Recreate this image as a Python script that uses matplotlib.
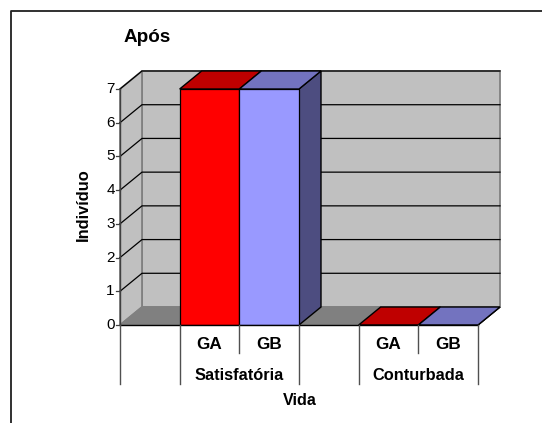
import matplotlib
matplotlib.use("Agg")
import matplotlib.pyplot as plt
from matplotlib.patches import Polygon

plt.rcParams["font.family"] = ["Liberation Sans", "DejaVu Sans"]

# dados
grupos = ["GA", "GB", "GA", "GB"]
categorias = ["Satisfatória", "Conturbada"]
valores = [7, 7, 0, 0]
posicoes = [1, 2, 4, 5]
niveis = [0, 1, 2, 3, 4, 5, 6, 7]

cores_frente = ["#ff0000", "#9999ff", "#ff0000", "#9999ff"]
cores_topo = ["#bf0000", "#7373bf", "#bf0000", "#7373bf"]
cores_lado = ["#7f0000", "#4d4d80", "#7f0000", "#4d4d80"]

W, H = 542, 423
fig = plt.figure(figsize=(W / 100, H / 100), dpi=100)

# eixo: x 0-6 de 120 a 478 px, y 0-7 de 325 a 89 px
ax = fig.add_axes([120 / W, 1 - 325 / H, 358 / W, 236 / H])
ax.set_xlim(0, 6)
ax.set_ylim(0, 7)
ax.axis("off")

dx = 22 / (358 / 6)
dy = 18 / (236 / 7)
cinza = "#808080"


def poly(pts, face, edge="black", lw=1.0, z=2):
    ax.add_patch(Polygon(pts, closed=True, facecolor=face, edgecolor=edge,
                         linewidth=lw, clip_on=False, zorder=z))


# paredes do fundo
poly([(dx, dy), (6 + dx, dy), (6 + dx, 7 + dy), (dx, 7 + dy)], "#c0c0c0", cinza, 1.3, 1)
poly([(0, 0), (dx, dy), (dx, 7 + dy), (0, 7)], "#c0c0c0", cinza, 1.3, 1)
poly([(0, 0), (6, 0), (6 + dx, dy), (dx, dy)], "#808080", cinza, 1.0, 1)

# linhas de grade
for n in niveis[1:]:
    ax.plot([0, dx, 6 + dx], [n, n + dy, n + dy], color="black", lw=0.9,
            clip_on=False, zorder=1.5)

# barras
for p, v, cf, ct, cl in zip(posicoes, valores, cores_frente, cores_topo, cores_lado):
    poly([(p + 1, 0), (p + 1 + dx, dy), (p + 1 + dx, v + dy), (p + 1, v)], cl, z=2)
    poly([(p, v), (p + 1, v), (p + 1 + dx, v + dy), (p + dx, v + dy)], ct, z=3)
    if v > 0:
        ax.bar(p, v, width=1, align="edge", color=cf, edgecolor="black", lw=0.9, zorder=4)

ax.plot([0, 6], [0, 0], color="black", lw=1.0, clip_on=False, zorder=5)
ax.plot([0, 0], [0, 7], color="#404040", lw=1.0, clip_on=False, zorder=5)

# marcas e numeros do eixo y
for n in niveis:
    ax.plot([-0.07, 0], [n, n], color="#404040", lw=0.9, clip_on=False, zorder=5)
    ax.text(-0.09, n, str(n), ha="right", va="center", fontsize=11, color="black")

# separadores do eixo x
for x, comp in [(0, 59), (1, 59), (2, 28), (3, 59), (4, 59), (5, 28), (6, 59)]:
    ax.plot([x, x], [0, -comp / (236 / 7)], color="#505050", lw=1.0,
            clip_on=False, zorder=5)

# rotulos do eixo x
for p, g in zip(posicoes, grupos):
    ax.text(p + 0.5, -19 / (236 / 7), g, ha="center", va="center",
            fontsize=12.3, fontweight="bold")
for x, c in zip([2, 5], categorias):
    ax.text(x, -50 / (236 / 7), c, ha="center", va="center", fontsize=11.8, fontweight="bold")

# titulos (posicao em pixels da figura)
fig.text(147.5 / W, 1 - 38 / H, "Após", ha="center", va="center", fontsize=13.6, fontweight="bold")
fig.text(299.5 / W, 1 - 400.5 / H, "Vida", ha="center", va="center", fontsize=11.6, fontweight="bold")
fig.text(83 / W, 1 - 205 / H, "Indivíduo", ha="center", va="center", rotation=90,
         fontsize=11.8, fontweight="bold")

# moldura: so esquerda e topo aparecem
fig.add_artist(plt.Line2D([10.5 / W, 10.5 / W, 1], [0, 1 - 11 / H, 1 - 11 / H],
                          color="#202020", lw=1.3))

fig.savefig("out.png", dpi=100)
